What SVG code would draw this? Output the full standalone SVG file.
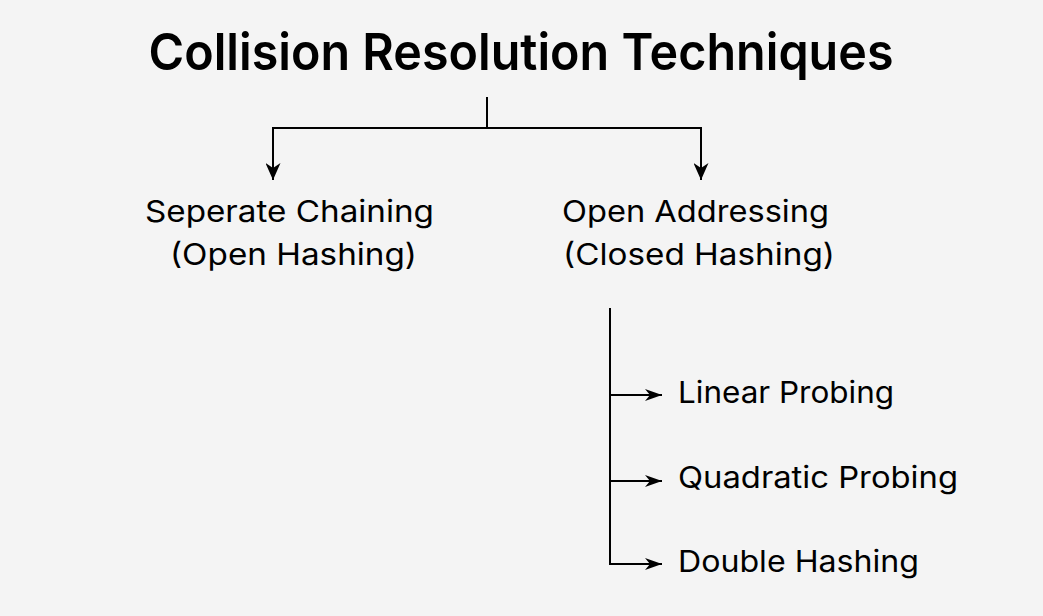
<svg xmlns="http://www.w3.org/2000/svg" width="1043" height="616" viewBox="0 0 1043 616">
<style>
.t{font-family:Inter,"Noto Sans","Liberation Sans",sans-serif;fill:#000}
.title{font-size:51px;font-weight:600}
.lbl{font-size:30px;font-weight:400}
.c{fill:none;stroke:#000;stroke-width:2}
</style>
<defs>
<marker id="ad" markerUnits="userSpaceOnUse" markerWidth="18" markerHeight="15" refX="17" refY="7.5" orient="auto" viewBox="0 0 18 15">
<path d="M0,0 L17,7.5 L0,15 L5,7.5 Z" fill="#000"/>
</marker>
<marker id="ar" markerUnits="userSpaceOnUse" markerWidth="18" markerHeight="12" refX="17" refY="6" orient="auto" viewBox="0 0 18 12">
<path d="M0,0 L17,6 L0,12 L5,6 Z" fill="#000"/>
</marker>
</defs>
<rect width="1043" height="616" fill="#f4f4f4"/>
<g id="title"><text class="t title" x="521" y="70" text-anchor="middle" textLength="745" lengthAdjust="spacingAndGlyphs">Collision Resolution Techniques</text></g>
<g id="connectors">
<path class="c" d="M487,97 V128 M273,128 H701"/>
<path class="c" d="M273,127 V180" marker-end="url(#ad)"/>
<path class="c" d="M701,127 V180" marker-end="url(#ad)"/>
<path class="c" d="M610,308 V564"/>
<path class="c" d="M609,395 H662" marker-end="url(#ar)"/>
<path class="c" d="M609,481 H662" marker-end="url(#ar)"/>
<path class="c" d="M609,564 H662" marker-end="url(#ar)"/>
</g>
<g id="separate-chaining">
<text class="t lbl" x="145" y="222" textLength="289" lengthAdjust="spacingAndGlyphs">Seperate Chaining</text>
<text class="t lbl" x="170" y="265" textLength="247" lengthAdjust="spacingAndGlyphs">(Open Hashing)</text>
</g>
<g id="open-addressing">
<text class="t lbl" x="562" y="222" textLength="267" lengthAdjust="spacingAndGlyphs">Open Addressing</text>
<text class="t lbl" x="563" y="265" textLength="272" lengthAdjust="spacingAndGlyphs">(Closed Hashing)</text>
</g>
<g id="linear-probing"><text class="t lbl" x="678" y="403" textLength="216" lengthAdjust="spacingAndGlyphs">Linear Probing</text></g>
<g id="quadratic-probing"><text class="t lbl" x="678" y="488" textLength="280" lengthAdjust="spacingAndGlyphs">Quadratic Probing</text></g>
<g id="double-hashing"><text class="t lbl" x="678" y="572" textLength="241" lengthAdjust="spacingAndGlyphs">Double Hashing</text></g>
</svg>
